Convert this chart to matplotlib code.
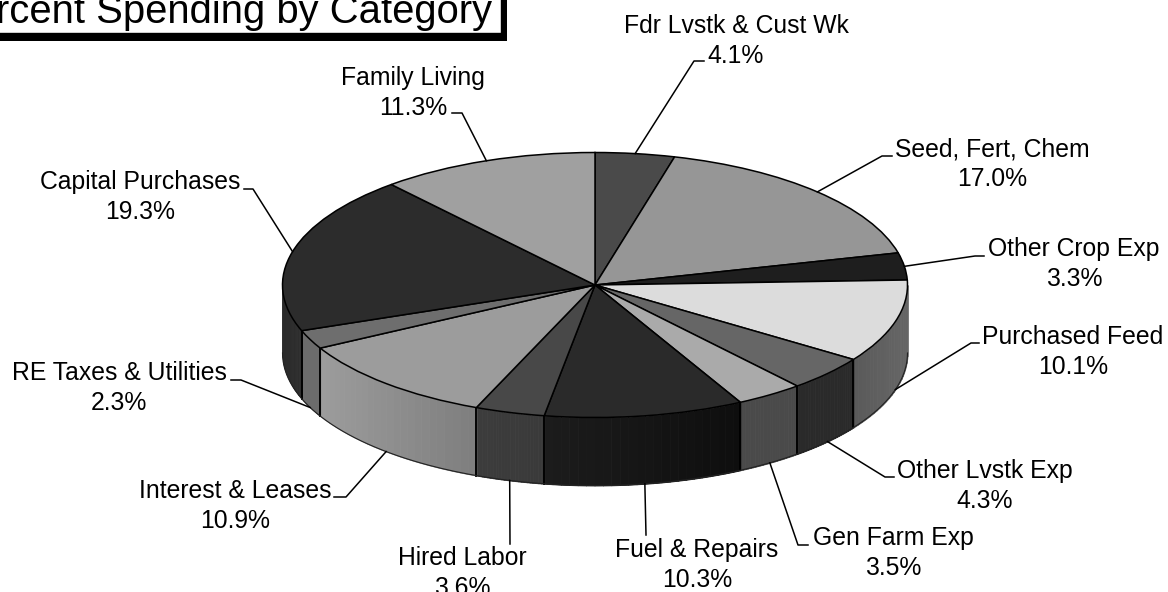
import numpy as np
import matplotlib
matplotlib.use("Agg")
import matplotlib.pyplot as plt
from matplotlib.colors import to_rgb
from matplotlib.patches import Rectangle

plt.rcParams["font.family"] = ["Liberation Sans", "DejaVu Sans"]

# data
categories = ["Fdr Lvstk & Cust Wk", "Seed, Fert, Chem", "Other Crop Exp", "Purchased Feed",
              "Other Lvstk Exp", "Gen Farm Exp", "Fuel & Repairs", "Hired Labor",
              "Interest & Leases", "RE Taxes & Utilities", "Capital Purchases", "Family Living"]
percent = [4.1, 17.0, 3.3, 10.1, 4.3, 3.5, 10.3, 3.6, 10.9, 2.3, 19.3, 11.3]
title = "Percent Spending by Category"

# greys of the top face and of the side wall (left end, right end of each slice)
top_colors = ["#4a4a4a", "#969696", "#1e1e1e", "#dcdcdc", "#666666", "#aaaaaa",
              "#2a2a2a", "#484848", "#9c9c9c", "#6e6e6e", "#2c2c2c", "#a0a0a0"]
wall_left = ["#4a4a4a", "#969696", "#1e1e1e", "#5a5a5a", "#2a2a2a", "#4a4a4a",
             "#1c1c1c", "#3c3c3c", "#9c9c9c", "#6c6c6c", "#2a2a2a", "#a0a0a0"]
wall_right = ["#4a4a4a", "#969696", "#1e1e1e", "#666666", "#2a2a2a", "#4a4a4a",
              "#0e0e0e", "#3a3a3a", "#7e7e7e", "#6c6c6c", "#2e2e2e", "#a0a0a0"]

# label centre (px) and leader elbow / end points (px), one per category
label_xy = [(736, 41), (992, 164), (1074, 264), (1073, 352), (985, 486), (893, 553),
            (697, 565), (462, 573), (235, 506), (119, 388), (140, 197), (413, 93)]
leader_mid = [(694, 61), (882, 156), (975, 256), (971, 343), (885, 477), (798, 545),
              (646, 535), (510, 544), (346, 497), (241, 380), (253, 189), (462, 113)]
leader_end = [(704, 61), (892, 156), (984, 256), (979, 343), (894, 477), (808, 545),
              (646, 535), (510, 544), (334, 497), (231, 380), (244, 189), (452, 113)]

W, H = 1168, 592
cx, cy, rx, ry, depth = 595, 285, 312.5, 132.5, 68
fig = plt.figure(figsize=(W / 100, H / 100), dpi=100)

# pie axes: one data unit is rx across and ry down, so the circle comes out flat
ax_pie = fig.add_axes([0, 0, 1, 1])
ax_pie.pie(percent, colors=top_colors, startangle=90, counterclock=False, radius=1,
           wedgeprops={"edgecolor": "black", "linewidth": 1.1, "zorder": 5})
ax_pie.set_aspect("auto")
ax_pie.set_xlim(-cx / rx, (W - cx) / rx)
ax_pie.set_ylim((cy - H) / ry, cy / ry)
ax_pie.axis("off")

# side wall, only the front half of the pie is seen
d = depth / ry
edges = np.cumsum([0] + percent) / sum(percent) * 2 * np.pi
for i in range(len(percent)):
    a0 = max(edges[i], np.pi / 2)
    a1 = min(edges[i + 1], 3 * np.pi / 2)
    if a1 <= a0:
        continue
    steps = np.linspace(a0, a1, 25)
    c_r, c_l = np.array(to_rgb(wall_right[i])), np.array(to_rgb(wall_left[i]))
    x_all = np.sin(steps)
    x_min, x_max = x_all.min(), x_all.max()
    for s0, s1 in zip(steps[:-1], steps[1:]):
        t = (np.sin((s0 + s1) / 2) - x_min) / (x_max - x_min)
        col = c_l + (c_r - c_l) * t
        aa = np.linspace(s0, s1, 6)
        ax_pie.fill_between(np.sin(aa), np.cos(aa), np.cos(aa) - d, color=col, lw=0.6, zorder=2)
    for a in (a0, a1):
        if np.pi / 2 < a < 3 * np.pi / 2:
            ax_pie.plot([np.sin(a)] * 2, [np.cos(a), np.cos(a) - d], color="black", lw=1.1, zorder=3)
aa = np.linspace(np.pi / 2, 3 * np.pi / 2, 200)
ax_pie.plot(np.sin(aa), np.cos(aa) - d, color="#222222", lw=0.8, zorder=3)

# overlay in pixels for title and labels
ax = fig.add_axes([0, 0, 1, 1], facecolor="none")
ax.set_xlim(0, W)
ax.set_ylim(H, 0)
ax.axis("off")

ax.add_patch(Rectangle((-20, -20), 527, 60.5, facecolor="black", edgecolor="none"))
ax.add_patch(Rectangle((-20, -20), 521, 53, facecolor="white", edgecolor="black", linewidth=1))
ax.text(492, 23, title, ha="right", va="baseline", fontsize=28.8, color="black")

# leaders start on the outer edge of the slice middle, on the wall when it is in front
mids = (edges[:-1] + edges[1:]) / 2
for i, name in enumerate(categories):
    px = cx + rx * np.sin(mids[i])
    py = cy - ry * np.cos(mids[i])
    if np.cos(mids[i]) < 0:
        py += depth
    ax.plot([px, leader_mid[i][0], leader_end[i][0]], [py, leader_mid[i][1], leader_end[i][1]],
            color="black", lw=1.1, zorder=1)
    ax.text(label_xy[i][0], label_xy[i][1], f"{name}\n{percent[i]:.1f}%", ha="center", va="center",
            fontsize=17.8, linespacing=1.3, color="black")

fig.savefig("out.png", dpi=100, facecolor="white")
